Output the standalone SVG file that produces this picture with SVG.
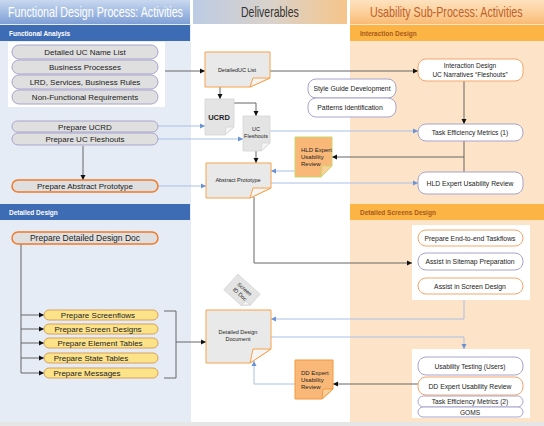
<svg xmlns="http://www.w3.org/2000/svg" width="544" height="426" viewBox="0 0 544 426">
<defs>
<linearGradient id="gL" x1="0" y1="0" x2="0" y2="1"><stop offset="0" stop-color="#c9d8ef"/><stop offset="0.5" stop-color="#a3bce3"/><stop offset="1" stop-color="#7f9fd5"/></linearGradient>
<linearGradient id="gM" x1="0" y1="0" x2="1" y2="0"><stop offset="0" stop-color="#bccbe3"/><stop offset="0.5" stop-color="#d9d2cb"/><stop offset="1" stop-color="#f6c58a"/></linearGradient>
<linearGradient id="gR" x1="0" y1="0" x2="0" y2="1"><stop offset="0" stop-color="#fde2bf"/><stop offset="0.5" stop-color="#fcd19c"/><stop offset="1" stop-color="#f9bb74"/></linearGradient>
<marker id="ad" markerUnits="userSpaceOnUse" markerWidth="6" markerHeight="6" refX="5" refY="3" orient="auto"><path d="M0,0.5 L5,3 L0,5.5 Z" fill="#111"/></marker>
<marker id="ab" markerUnits="userSpaceOnUse" markerWidth="6" markerHeight="6" refX="5" refY="3" orient="auto"><path d="M0,0.5 L5,3 L0,5.5 Z" fill="#6b93d6"/></marker>
</defs>
<style>
.t{font-family:"Liberation Sans",Arial,sans-serif;fill:#222;text-anchor:middle}
.ts{font-family:"Liberation Sans",Arial,sans-serif;fill:#222;text-anchor:start;font-size:6px}
.h{font-family:"Liberation Sans",Arial,sans-serif;font-size:14px}
.bar{font-family:"Liberation Sans",Arial,sans-serif;font-weight:bold;font-size:6.5px}
.pill{fill:#dfdfdf;stroke:#a7a4cd;stroke-width:1}
.pillo{fill:#dfdfdf;stroke:#f07a2a;stroke-width:1.5}
.pilly{fill:#fce38a;stroke:#d9a05a;stroke-width:1}
.box{fill:#fff;stroke:#a7a4cd;stroke-width:1}
.boxo{fill:#fff;stroke:#f5a56a;stroke-width:1}
.doc{fill:#e9e9e9;stroke:#f7a34a;stroke-width:1}
.docg{fill:#e4e4e4;stroke:#d4d4d4;stroke-width:0.8}
.fold{fill:#f5f5f5}
.dk{stroke:#666;fill:none;stroke-width:1}
.lb{stroke:#a9c1e6;fill:none;stroke-width:1}
</style>
<!-- backgrounds -->
<rect x="0" y="0" width="544" height="426" fill="#fff"/>
<rect x="0" y="24" width="191" height="398" fill="#e6ecf5"/>
<rect x="350" y="24" width="194" height="398" fill="#fde4c9"/>
<rect x="0" y="422" width="544" height="4" fill="#e6e6e6"/>
<!-- headers -->
<rect x="0" y="0" width="190" height="24" fill="url(#gL)"/>
<text class="h" transform="translate(8,17) scale(0.72,1)" x="0" y="0" fill="#fff" textLength="243" lengthAdjust="spacingAndGlyphs">Functional Design Process: Activities</text>
<rect x="193" y="0" width="154" height="24" fill="url(#gM)"/>
<text class="h" transform="translate(241,17) scale(0.74,1)" x="0" y="0" fill="#333" textLength="78" lengthAdjust="spacingAndGlyphs">Deliverables</text>
<rect x="350" y="0" width="194" height="24" fill="url(#gR)"/>
<text class="h" transform="translate(370,17) scale(0.72,1)" x="0" y="0" fill="#c0602a" textLength="212" lengthAdjust="spacingAndGlyphs">Usability Sub-Process: Activities</text>
<!-- section bars -->
<rect x="0" y="25" width="190" height="16" fill="#3e6cb4"/>
<text class="bar" x="9" y="36" fill="#fff">Functional Analysis</text>
<rect x="0" y="204" width="190" height="16" fill="#3e6cb4"/>
<text class="bar" x="9" y="215" fill="#fff">Detailed Design</text>
<rect x="350" y="25" width="194" height="16" fill="#fcb445"/>
<text class="bar" x="360" y="36" fill="#a85a1c">Interaction Design</text>
<rect x="350" y="204" width="194" height="16" fill="#fcb445"/>
<text class="bar" x="360" y="215" fill="#a85a1c">Detailed Screens Design</text>
<!-- white group boxes -->
<rect x="8" y="42" width="157" height="65" fill="#fff"/>
<rect x="412" y="225" width="118" height="75" fill="#fff"/>
<rect x="412" y="349" width="118" height="69" fill="#fff"/>

<g id="connectors">
<path class="dk" d="M165,71 H205" marker-end="url(#ad)"/>
<path class="dk" d="M270,71 H418" stroke="#888" marker-end="url(#ad)"/>
<path class="dk" d="M464,81 V124" marker-end="url(#ad)"/>
<path class="dk" d="M464,141 V172"/>
<path class="dk" d="M464,157 H332" marker-end="url(#ad)"/>
<path class="dk" d="M220,87 V99" marker-end="url(#ad)"/>
<path class="dk" d="M234,103 H256 V116" marker-end="url(#ad)"/>
<path class="dk" d="M256,151 V163" marker-end="url(#ad)"/>
<path class="dk" d="M83,146 V180" marker-end="url(#ad)"/>
<path class="dk" d="M254,197 V263 H412" stroke="#888" marker-end="url(#ad)"/>
<path class="dk" d="M21,244 V373" stroke="#777" stroke-width="0.8"/>
<path class="dk" d="M21,315 H44" stroke-width="0.8" marker-end="url(#ad)"/>
<path class="dk" d="M21,329 H44" stroke-width="0.8" marker-end="url(#ad)"/>
<path class="dk" d="M21,343 H44" stroke-width="0.8" marker-end="url(#ad)"/>
<path class="dk" d="M21,358 H44" stroke-width="0.8" marker-end="url(#ad)"/>
<path class="dk" d="M21,373 H44" stroke-width="0.8" marker-end="url(#ad)"/>
<path class="dk" d="M164,311 H176 V378 H164"/>
<path class="dk" d="M176,342 H206" marker-end="url(#ad)"/>
<path class="dk" d="M418,384 H333" marker-end="url(#ad)"/>
<path class="lb" d="M158,126 H205" marker-end="url(#ab)"/>
<path class="lb" d="M158,139 H243" marker-end="url(#ab)"/>
<path class="lb" d="M158,186 H206" marker-end="url(#ab)"/>
<path class="lb" d="M270,131 H418" marker-end="url(#ab)"/>
<path class="lb" d="M271,183 H418" marker-end="url(#ab)"/>
<path class="lb" d="M295,171 H271" marker-end="url(#ab)"/>
<path class="lb" d="M464,300 V319 H271" marker-end="url(#ab)"/>
<path class="lb" d="M271,337 H464 V349" marker-end="url(#ab)"/>
<path class="lb" d="M295,384 H254 V361" marker-end="url(#ab)"/>
</g>

<!-- Functional analysis pills -->
<g id="detailed-uc-name-list"><rect class="pill" x="12" y="45" width="146" height="14" rx="7"/><text class="t" x="85" y="55" font-size="8">Detailed UC Name List</text></g>
<g id="business-processes"><rect class="pill" x="12" y="60" width="146" height="14" rx="7"/><text class="t" x="85" y="70" font-size="8">Business Processes</text></g>
<g id="lrd-services"><rect class="pill" x="12" y="75" width="146" height="14" rx="7"/><text class="t" x="85" y="85" font-size="8">LRD, Services, Business Rules</text></g>
<g id="non-functional"><rect class="pill" x="12" y="90" width="146" height="14" rx="7"/><text class="t" x="85" y="100" font-size="8">Non-Functional Requirements</text></g>
<g id="prepare-ucrd"><rect class="pill" x="12" y="121" width="146" height="11" rx="5.5"/><text class="t" x="85" y="129.5" font-size="8">Prepare UCRD</text></g>
<g id="prepare-uc-fleshouts"><rect class="pill" x="12" y="133" width="146" height="12" rx="6"/><text class="t" x="85" y="142" font-size="8">Prepare UC Fleshouts</text></g>
<g id="prepare-abstract-prototype"><rect class="pillo" x="12" y="180" width="146" height="12" rx="6"/><text class="t" x="85" y="189" font-size="8">Prepare Abstract Prototype</text></g>
<g id="prepare-detailed-design-doc"><rect class="pillo" x="12" y="232" width="146" height="12" rx="6"/><text class="t" x="85" y="241" font-size="8.5">Prepare Detailed Design Doc</text></g>
<g id="prepare-screenflows"><rect class="pilly" x="44" y="310" width="114" height="10" rx="5"/><text class="t" x="98" y="318" font-size="8">Prepare Screenflows</text></g>
<g id="prepare-screen-designs"><rect class="pilly" x="44" y="324" width="114" height="10" rx="5"/><text class="t" x="98" y="332" font-size="8">Prepare Screen Designs</text></g>
<g id="prepare-element-tables"><rect class="pilly" x="44" y="338" width="114" height="10" rx="5"/><text class="t" x="100" y="346" font-size="8">Prepare Element Tables</text></g>
<g id="prepare-state-tables"><rect class="pilly" x="44" y="353" width="114" height="10" rx="5"/><text class="t" x="91" y="361" font-size="8">Prepare State Tables</text></g>
<g id="prepare-messages"><rect class="pilly" x="44" y="368" width="114" height="10" rx="5"/><text class="t" x="87" y="376" font-size="8">Prepare Messages</text></g>

<!-- Deliverables -->
<g id="detailed-uc-list"><path class="doc" d="M205,52 H270 V78 L250,87 H205 Z"/><path class="doc fold" d="M250,87 L253,78 L270,78 Z"/><text class="t" x="237" y="72" font-size="5.5">DetailedUC List</text></g>
<g id="ucrd"><path class="docg" d="M205,99 H234 V127 L225,135 H205 Z"/><path class="docg fold" d="M225,135 L226,127 L234,127 Z"/><text class="t" x="219" y="120" font-size="7.5" font-weight="bold" fill="#444">UCRD</text></g>
<g id="uc-fleshouts"><path class="docg" d="M243,116 H270 V143 L261,151 H243 Z"/><path class="docg fold" d="M261,151 L262,143 L270,143 Z"/><text class="t" x="256" y="131" font-size="5.5">UC</text><text class="t" x="256" y="138" font-size="5.5">Fleshouts</text></g>
<g id="abstract-prototype"><path class="doc" d="M206,163 H271 V188 L250,198 H206 Z"/><path class="doc fold" d="M250,198 L253,188 L271,188 Z"/><text class="t" x="238" y="182" font-size="5.5">Abstract Prototype</text></g>
<g id="hld-expert-note"><path d="M295,137 H332 V166 L321,177 H295 Z" fill="#f9b877" stroke="#c9d86a"/><path d="M321,177 L322,166 L332,166 Z" fill="#fbd09c" stroke="#c9d86a"/><text class="ts" x="301" y="152">HLD Expert</text><text class="ts" x="301" y="159">Usability</text><text class="ts" x="301" y="166">Review</text></g>
<g id="screen-id-doc" transform="translate(242,292) rotate(42)"><path class="docg" d="M-15,-10.5 H15 V4 L8,10.5 H-15 Z"/><path class="docg fold" d="M8,10.5 L9,4 L15,4 Z"/><text class="t" x="0" y="-2" font-size="5.5">Screen</text><text class="t" x="0" y="5" font-size="5.5">ID Doc</text></g>
<g id="detailed-design-document"><path class="doc" d="M206,310 H271 V349 L250,363 H206 Z"/><path class="doc fold" d="M250,363 L253,349 L271,349 Z"/><text class="t" x="238" y="334" font-size="5.5">Detailed Design</text><text class="t" x="238" y="341" font-size="5.5">Document</text></g>
<g id="dd-expert-note"><path d="M295,360 H333 V389 L322,399 H295 Z" fill="#f9b877" stroke="#f39a40"/><path d="M322,399 L323,389 L333,389 Z" fill="#fbd09c" stroke="#f39a40"/><text class="ts" x="301" y="375">DD Expert</text><text class="ts" x="301" y="382">Usability</text><text class="ts" x="301" y="389">Review</text></g>
<g id="style-guide"><rect class="box" x="308" y="79" width="88" height="19" rx="8"/><text class="t" x="352" y="91" font-size="6.8">Style Guide Development</text></g>
<g id="patterns-identification"><rect class="box" x="308" y="98" width="88" height="19" rx="8"/><text class="t" x="350" y="110" font-size="6.8">Patterns Identification</text></g>

<!-- Usability -->
<g id="interaction-design-narratives"><rect class="boxo" x="418" y="59" width="105" height="22" rx="8"/><text class="t" x="470" y="68" font-size="6.5">Interaction Design</text><text class="t" x="470" y="77" font-size="6.5">UC Narratives “Fleshouts”</text></g>
<g id="task-efficiency-1"><rect class="box" x="418" y="124" width="105" height="17" rx="8"/><text class="t" x="470" y="135" font-size="6.6">Task Efficiency Metrics (1)</text></g>
<g id="hld-expert-review"><rect class="box" x="418" y="172" width="105" height="22" rx="8" stroke="#9f9cbf"/><text class="t" x="470" y="185.5" font-size="6.8">HLD Expert Usability Review</text></g>
<g id="end-to-end-taskflows"><rect class="boxo" x="418" y="230" width="105" height="16" rx="8"/><text class="t" x="470" y="240.5" font-size="6.8">Prepare End-to-end Taskflows</text></g>
<g id="sitemap-preparation"><rect class="box" x="418" y="253" width="105" height="17" rx="8"/><text class="t" x="470" y="264" font-size="6.8">Assist in Sitemap Preparation</text></g>
<g id="screen-design"><rect class="boxo" x="418" y="278" width="105" height="16" rx="8"/><text class="t" x="470" y="288.5" font-size="6.8">Assist in Screen Design</text></g>
<g id="usability-testing"><rect class="box" x="418" y="357" width="105" height="18" rx="8"/><text class="t" x="470" y="368.5" font-size="6.6">Usability Testing (Users)</text></g>
<g id="dd-expert-review"><rect class="boxo" x="418" y="377" width="105" height="18" rx="8" stroke="#f07a2a" stroke-width="1.5"/><text class="t" x="470" y="388.5" font-size="6.8">DD Expert Usability Review</text></g>
<g id="task-efficiency-2"><rect class="box" x="418" y="396" width="105" height="11" rx="5.5"/><text class="t" x="470" y="404" font-size="6.6">Task Efficiency Metrics (2)</text></g>
<g id="goms"><rect class="box" x="418" y="407" width="105" height="10" rx="5"/><text class="t" x="470" y="414.5" font-size="6.6">GOMS</text></g>
</svg>
